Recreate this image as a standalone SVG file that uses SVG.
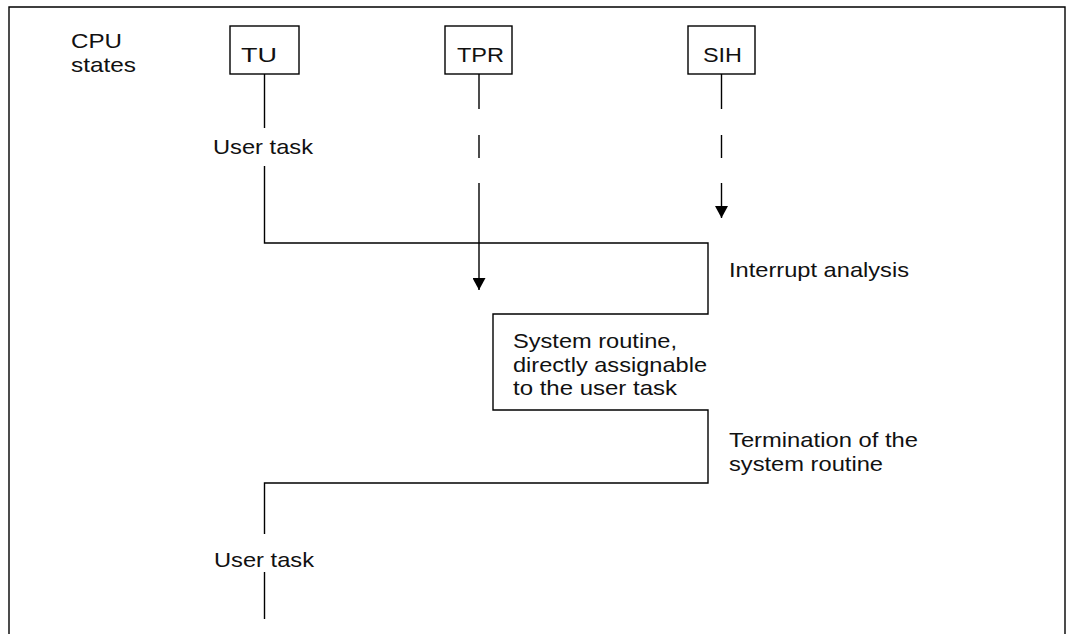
<svg xmlns="http://www.w3.org/2000/svg" width="1069" height="634" viewBox="0 0 1069 634">
<style>
  .ln { fill: none; stroke: #000; stroke-width: 1.4; }
  .box { fill: #fff; stroke: #000; stroke-width: 1.4; }
  .t { font-family: "Liberation Sans", Arial, Helvetica, sans-serif; font-size: 21px; fill: #111; }
</style>
<defs>
  <marker id="arr" viewBox="0 0 12 13" refX="12" refY="6.5" markerWidth="12" markerHeight="13" markerUnits="userSpaceOnUse" orient="auto">
    <path d="M0,0 L12,6.5 L0,13 Z" fill="#000"/>
  </marker>
</defs>
<rect width="1069" height="634" fill="#fff"/>
<g id="frame">
  <path class="ln" d="M9,634 V7 H1065 V634"/>
</g>
<g id="legend">
  <text class="t" x="71" y="48" textLength="51" lengthAdjust="spacingAndGlyphs">CPU</text>
  <text class="t" x="71" y="72" textLength="65" lengthAdjust="spacingAndGlyphs">states</text>
</g>
<g id="connectors">
  <!-- TU lifeline -->
  <path class="ln" d="M264.5,74 V128"/>
  <path class="ln" d="M264.5,166 V243 H708 V314 H493 V410 H708 V483 H264.5 V534"/>
  <path class="ln" d="M264.5,572 V619"/>
  <!-- TPR lifeline -->
  <path class="ln" d="M479,74 V109 M479,135 V158"/>
  <path class="ln" d="M479,183 V290" marker-end="url(#arr)"/>
  <!-- SIH lifeline -->
  <path class="ln" d="M721.5,74 V109 M721.5,135 V158"/>
  <path class="ln" d="M721.5,183 V218" marker-end="url(#arr)"/>
</g>
<g id="node-TU">
  <rect class="box" x="230" y="26" width="69" height="48"/>
  <text class="t" x="259" y="62" text-anchor="middle" textLength="36" lengthAdjust="spacingAndGlyphs">TU</text>
</g>
<g id="node-TPR">
  <rect class="box" x="445" y="26" width="67" height="48"/>
  <text class="t" x="480.5" y="62" text-anchor="middle" textLength="47" lengthAdjust="spacingAndGlyphs">TPR</text>
</g>
<g id="node-SIH">
  <rect class="box" x="688" y="26" width="67" height="48"/>
  <text class="t" x="722.5" y="62" text-anchor="middle" textLength="39" lengthAdjust="spacingAndGlyphs">SIH</text>
</g>
<g id="label-user-task-1">
  <text class="t" x="213" y="154" textLength="100" lengthAdjust="spacingAndGlyphs">User task</text>
</g>
<g id="label-interrupt">
  <text class="t" x="729" y="277" textLength="180" lengthAdjust="spacingAndGlyphs">Interrupt analysis</text>
</g>
<g id="label-system-routine">
  <text class="t" x="513" y="348" textLength="164" lengthAdjust="spacingAndGlyphs">System routine,</text>
  <text class="t" x="513" y="372" textLength="194" lengthAdjust="spacingAndGlyphs">directly assignable</text>
  <text class="t" x="513" y="395" textLength="164" lengthAdjust="spacingAndGlyphs">to the user task</text>
</g>
<g id="label-termination">
  <text class="t" x="729" y="447" textLength="189" lengthAdjust="spacingAndGlyphs">Termination of the</text>
  <text class="t" x="729" y="471" textLength="154" lengthAdjust="spacingAndGlyphs">system routine</text>
</g>
<g id="label-user-task-2">
  <text class="t" x="214" y="567" textLength="100" lengthAdjust="spacingAndGlyphs">User task</text>
</g>
</svg>
